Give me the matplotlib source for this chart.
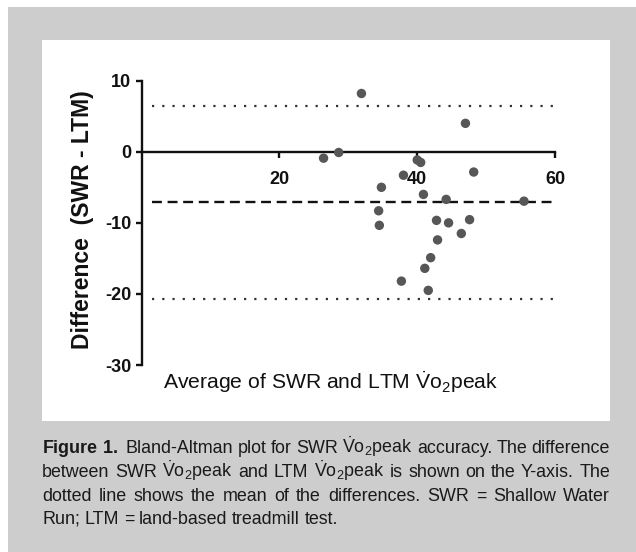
import matplotlib
matplotlib.use("Agg")
import matplotlib.pyplot as plt
from matplotlib.patches import Rectangle

plt.rcParams['mathtext.fontset'] = 'custom'
plt.rcParams['mathtext.rm'] = 'Liberation Sans'
plt.rcParams['mathtext.sf'] = 'Liberation Sans'
plt.rcParams['mathtext.bf'] = 'Liberation Sans:bold'

# data: average (x) and difference (y)
avg = [26.4, 28.6, 31.9, 34.8, 34.4, 34.5, 37.7, 38.0, 40.0, 40.5, 40.9, 41.1,
       41.95, 41.6, 42.8, 42.95, 44.2, 44.55, 46.4, 47.0, 47.6, 48.2, 55.5]
diff = [-0.9, -0.1, 8.2, -5.0, -8.3, -10.35, -18.2, -3.3, -1.15, -1.5, -6.0, -16.4,
        -14.9, -19.5, -9.65, -12.4, -6.7, -10.0, -11.5, 4.0, -9.55, -2.85, -6.95]
mean_diff = -7.05
upper_loa = 6.4
lower_loa = -20.7
line_x = [1.5, 60]
x_ticks = [20, 40, 60]
y_ticks = [10, 0, -10, -20, -30]

VO2 = r'$\dot{\mathsf{V}}\mathsf{o}_{\mathsf{2}}$peak'
caption_lines = [
    [r'$\mathbf{Figure\ 1.}$', 'Bland-Altman', 'plot', 'for', 'SWR', VO2, 'accuracy.',
     'The', 'difference'],
    ['between', 'SWR', VO2, 'and', 'LTM', VO2, 'is', 'shown', 'on', 'the', 'Y-axis.', 'The'],
    ['dotted', 'line', 'shows', 'the', 'mean', 'of', 'the', 'differences.', 'SWR', '=',
     'Shallow', 'Water'],
    ['Run;', 'LTM', '=', 'land-based', 'treadmill', 'test.'],
]

fig = plt.figure(figsize=(6.36, 5.52), dpi=100)
W, H = 636, 552
fig.patches.append(Rectangle((8 / W, 0), 1, 1 - 7 / H, transform=fig.transFigure,
                             facecolor='#cdcdcd', edgecolor='none', zorder=-10))
fig.patches.append(Rectangle((42 / W, 1 - 421 / H), (610 - 42) / W, (421 - 40) / H,
                             transform=fig.transFigure, facecolor='white',
                             edgecolor='none', zorder=-9))

ax = fig.add_axes([141.7 / W, 1 - 365 / H, (555 - 141.7) / W, (365 - 80.7) / H])
ax.set_facecolor('none')
ax.set_xlim(0, 60)
ax.set_ylim(-30, 10)

ax.plot(line_x, [upper_loa] * 2, color='#333333', lw=1.6, linestyle=(0, (1, 3.6)))
ax.plot(line_x, [lower_loa] * 2, color='#333333', lw=1.6, linestyle=(0, (1, 3.6)))
ax.plot(line_x, [mean_diff] * 2, color='#111111', lw=1.7, linestyle=(0, (4.2, 2.4)))
ax.scatter(avg, diff, s=46, color='#575757', edgecolors='none', zorder=5)

for s in ['top', 'right']:
    ax.spines[s].set_visible(False)
ax.spines['bottom'].set_position(('data', 0))
for s in ['left', 'bottom']:
    ax.spines[s].set_linewidth(1.7)
    ax.spines[s].set_color('#111111')

ax.set_xticks(x_ticks)
ax.set_yticks(y_ticks)
ax.set_xticklabels([str(t) for t in x_ticks])
ax.set_yticklabels([str(t) for t in y_ticks])
ax.tick_params(axis='both', length=4.5, width=1.7, color='#111111', direction='out')
ax.tick_params(axis='x', pad=9)
ax.tick_params(axis='y', pad=3)
for lab in ax.get_xticklabels() + ax.get_yticklabels():
    lab.set_fontfamily('Liberation Sans')
    lab.set_fontweight('bold')
    lab.set_fontsize(13)
    lab.set_color('#111111')

fig.text(83 / W, 1 - 220 / H, 'Difference  (SWR - LTM)', rotation=90,
         ha='center', va='center', fontsize=16.5, fontweight='bold',
         family='Liberation Sans', color='#111111')
fig.text(163 / W, 1 - 382 / H, r'Average of SWR and LTM $\dot{\mathrm{V}}\mathrm{o}_{2}$peak',
         ha='left', va='center', fontsize=15.2, family='Liberation Sans', color='#111111')

# caption, justified between x=42 and x=610 (last line left aligned)
renderer = fig.canvas.get_renderer()
left_px, right_px = 42, 610
baselines = [453, 477, 501, 524]
for li, words in enumerate(caption_lines):
    texts = []
    for w in words:
        t = fig.text(0, 1 - baselines[li] / H, w, ha='left', va='baseline',
                     fontsize=12.9, family='Liberation Sans', color='#1a1a1a')
        texts.append(t)
    widths = [t.get_window_extent(renderer).width for t in texts]
    extra = [0.0] * len(words)
    if li == 0:
        extra[1] = 3.0
    if li < len(caption_lines) - 1:
        gap = (right_px - left_px - sum(widths) - sum(extra)) / (len(words) - 1)
    else:
        gap = 4.7
    x = left_px
    for t, w, e in zip(texts, widths, extra):
        x += e
        t.set_x(x / W)
        x += w + gap

fig.savefig('out.png', dpi=100)
